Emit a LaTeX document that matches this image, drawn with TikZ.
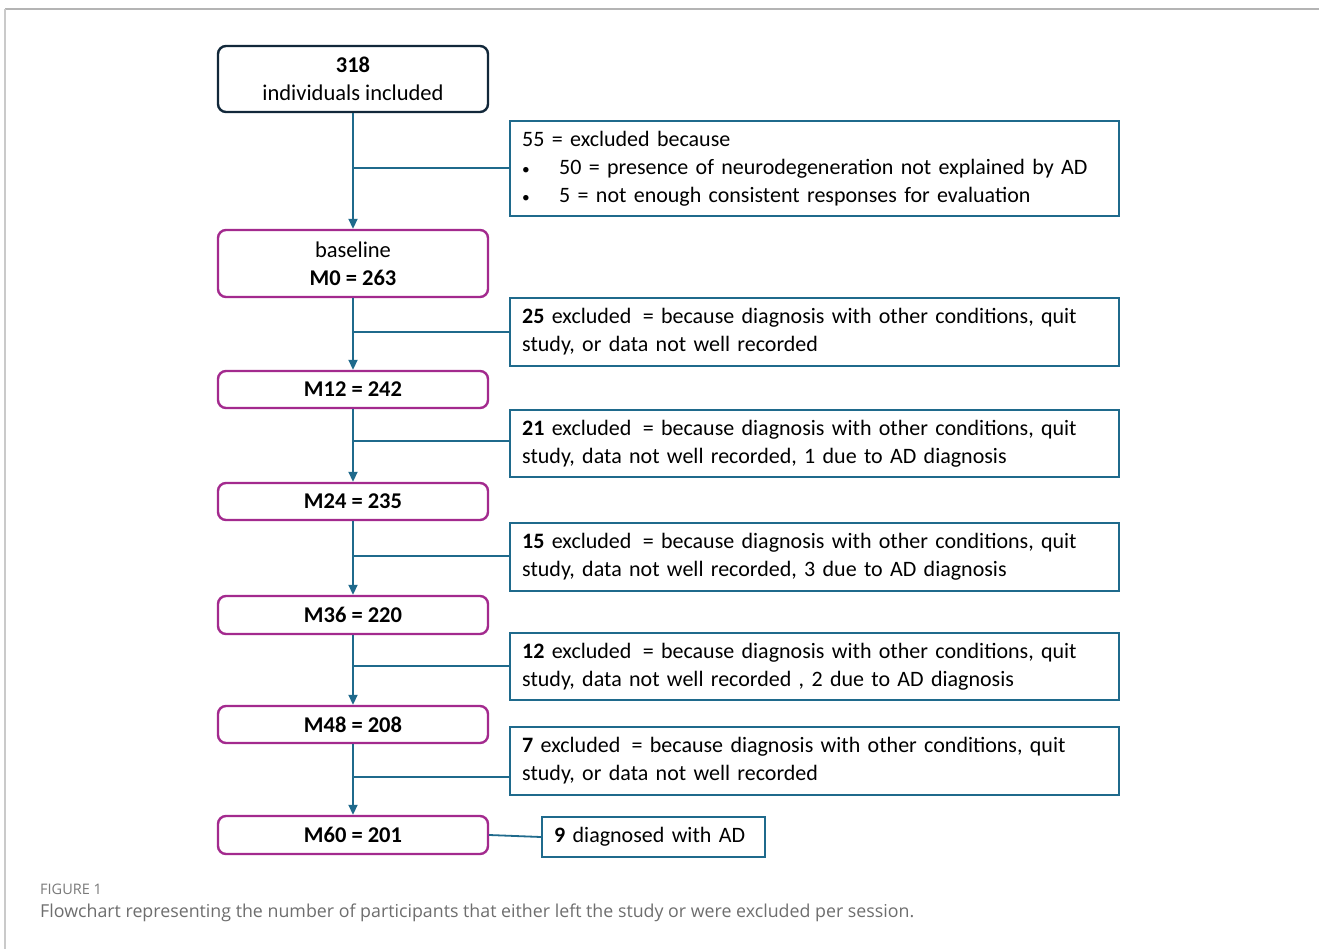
\documentclass[tikz,border=0pt]{standalone}
\usepackage{fontspec}
\setmainfont{Carlito}
\newfontfamily\capfont{Open Sans}
\usetikzlibrary{arrows.meta,calc}
\definecolor{navyb}{HTML}{12283A}
\definecolor{purp}{HTML}{A32A8E}
\definecolor{tealb}{HTML}{1F6A8C}
\definecolor{framegray}{HTML}{B4B4B4}
\definecolor{capgray}{HTML}{7A7A7A}
\tikzset{
  stagebox/.style={draw=purp, line width=2.4pt, rounded corners=8pt, minimum width=270pt, align=center, inner sep=4pt, font=\fontsize{22.5}{28}\selectfont},
  topbox/.style={stagebox, draw=navyb},
  exclbox/.style={draw=tealb, line width=2.4pt, anchor=west, text width=585pt, inner xsep=12pt, inner ysep=4pt, align=left, font=\fontsize{22}{28}\selectfont},
  adbox/.style={draw=tealb, line width=2.4pt, anchor=west, text width=199pt, minimum height=40pt, inner xsep=12pt, align=left, font=\fontsize{22}{28}\selectfont},
  flow/.style={draw=tealb, line width=1.8pt},
  arr/.style={flow, -{Triangle[length=10pt,width=9pt]}},
}
\newcommand{\bul}{\hspace*{0pt}\makebox[37pt][l]{\scalebox{0.7}{\textbullet}}}
\begin{document}
\begin{tikzpicture}[x=1pt,y=-1pt]
\useasboundingbox (0,0) rectangle (1319,949);
\fill[white] (0,0) rectangle (1319,949);
% frame
\draw[framegray, line width=2pt] (5,9) -- (1319,9);
\draw[framegray!70, line width=1.2pt] (5,9) -- (5,949);

% stage boxes
\node[topbox, minimum height=66pt] (top) at (353,79) {\textbf{318}\\individuals included};
\node[stagebox, minimum height=67pt] (base) at (353,263.5) {baseline\\\textbf{M0 = 263}};
\node[stagebox, minimum height=37pt] (m12) at (353,389.5) {\textbf{M12 = 242}};
\node[stagebox, minimum height=37pt] (m24) at (353,501.5) {\textbf{M24 = 235}};
\node[stagebox, minimum height=38pt] (m36) at (353,615) {\textbf{M36 = 220}};
\node[stagebox, minimum height=37pt] (m48) at (353,724.5) {\textbf{M48 = 208}};
\node[stagebox, minimum height=38pt] (m60) at (353,835) {\textbf{M60 = 201}};

% exclusion boxes
\node[exclbox, minimum height=95pt] (e1) at (509,168.5) {55 = excluded because\\\bul 50 = presence of neurodegeneration not explained by AD\\\bul 5 = not enough consistent responses for evaluation};
\node[exclbox, minimum height=68pt] (e2) at (509,332) {\textbf{25} excluded\hspace{4pt} = because diagnosis with other conditions, quit\\study, or data not well recorded};
\node[exclbox, minimum height=67pt] (e3) at (509,443.5) {\textbf{21} excluded\hspace{4pt} = because diagnosis with other conditions, quit\\study, data not well recorded, 1 due to AD diagnosis};
\node[exclbox, minimum height=68pt] (e4) at (509,557) {\textbf{15} excluded\hspace{4pt} = because diagnosis with other conditions, quit\\study, data not well recorded, 3 due to AD diagnosis};
\node[exclbox, minimum height=67pt] (e5) at (509,666.5) {\textbf{12} excluded\hspace{4pt} = because diagnosis with other conditions, quit\\study, data not well recorded , 2 due to AD diagnosis};
\node[exclbox, minimum height=68pt] (e6) at (509,761) {\textbf{7} excluded\hspace{4pt} = because diagnosis with other conditions, quit\\study, or data not well recorded};
\node[adbox] (ad) at (541,837) {\textbf{9} diagnosed with AD};

% junction points
\coordinate (j1) at (353,168);
\coordinate (j2) at (353,332);
\coordinate (j3) at (353,441);
\coordinate (j4) at (353,556);
\coordinate (j5) at (353,666);
\coordinate (j6) at (353,777);

% main arrows
\draw[arr] (top.south) -- (base.north);
\draw[arr] (base.south) -- (m12.north);
\draw[arr] (m12.south) -- (m24.north);
\draw[arr] (m24.south) -- (m36.north);
\draw[arr] (m36.south) -- (m48.north);
\draw[arr] (m48.south) -- (m60.north);

% branches
\draw[flow] (j1) -- (j1 -| e1.west);
\draw[flow] (j2) -- (j2 -| e2.west);
\draw[flow] (j3) -- (j3 -| e3.west);
\draw[flow] (j4) -- (j4 -| e4.west);
\draw[flow] (j5) -- (j5 -| e5.west);
\draw[flow] (j6) -- (j6 -| e6.west);
\draw[flow] (m60.east) -- (ad.west);

% caption
\node[anchor=west, inner sep=0pt, text=capgray, font=\capfont\fontsize{14.5}{17}\selectfont] (figlab) at (40,889) {FIGURE 1};
\node[anchor=west, inner sep=0pt, text=capgray!90!black, font=\capfont\fontsize{17.8}{21}\selectfont] (cap) at (40,913) {Flowchart representing the number of participants that either left the study or were excluded per session.};
\end{tikzpicture}
\end{document}
